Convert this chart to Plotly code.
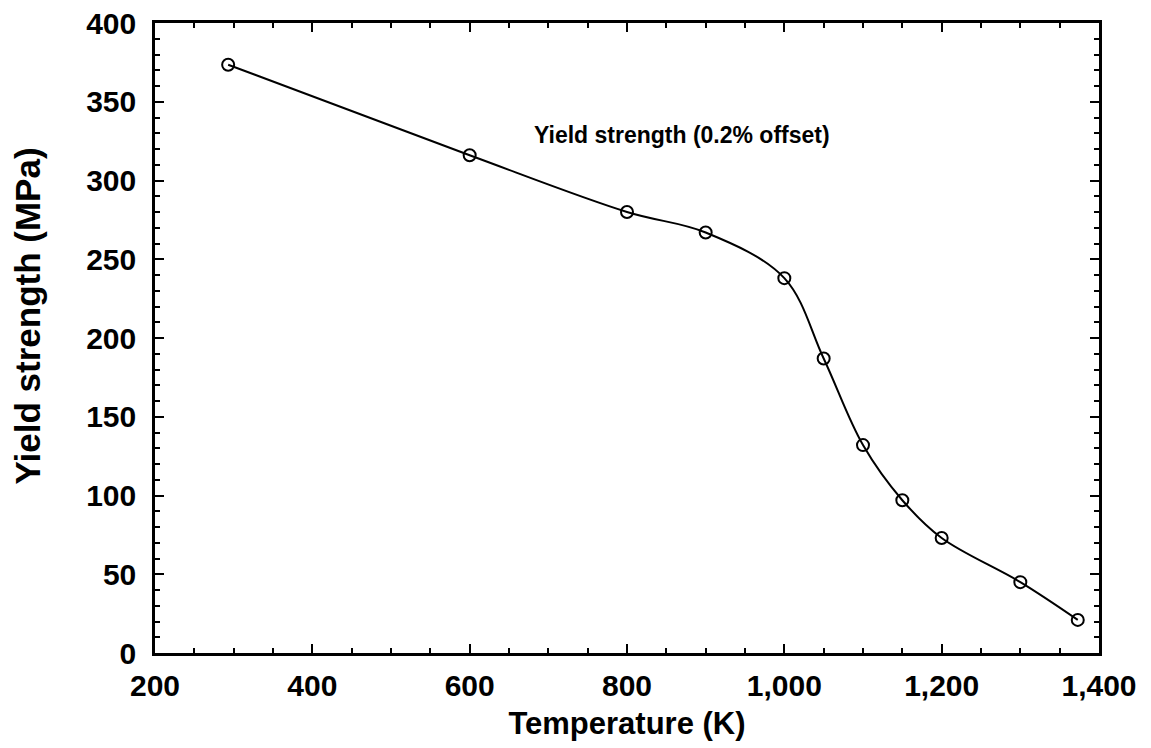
import plotly.graph_objects as go

# Datos
temperatura = [293, 600, 800, 900, 1000, 1050, 1100, 1150, 1200, 1300, 1373]
fluencia = [373.5, 316, 280, 267, 238, 187, 132, 97, 73, 45, 21]

fuente = "Liberation Sans, Arial, Helvetica, sans-serif"

fig = go.Figure()
fig.add_trace(go.Scatter(
    x=temperatura, y=fluencia, mode="lines+markers",
    line=dict(color="black", width=2, shape="spline"),
    marker=dict(symbol="circle-open", size=12, color="black", line=dict(width=2)),
    showlegend=False,
))

fig.add_annotation(x=870, y=329, text="Yield strength (0.2% offset)", showarrow=False,
                   font=dict(family=fuente, size=23, color="black", weight="bold"))

# titulo del eje y como anotacion (en el original no esta centrado)
fig.add_annotation(xref="paper", yref="paper", x=-0.135, y=0.535, textangle=-90,
                   text="Yield strength (MPa)", showarrow=False,
                   xanchor="center", yanchor="middle",
                   font=dict(family=fuente, size=35, color="black", weight="bold"))

eje = dict(showgrid=False, zeroline=False, showline=True, linecolor="black", linewidth=2.5,
           mirror="allticks", ticks="inside", ticklen=9, tickwidth=2, tickcolor="black",
           ticklabeloverflow="allow", automargin=False,
           tickfont=dict(family=fuente, size=30, color="black", weight="bold"))

fig.update_xaxes(eje, range=[200, 1400], dtick=200, tickformat=",d", ticklabelstandoff=4,
                 minor=dict(dtick=50, ticks="inside", ticklen=5, tickwidth=2, tickcolor="black"),
                 title=dict(text="Temperature (K)",
                            font=dict(family=fuente, size=31, color="black", weight="bold"),
                            standoff=12))
fig.update_yaxes(eje, range=[0, 400], dtick=50, ticklabelstandoff=10,
                 minor=dict(dtick=10, ticks="inside", ticklen=5, tickwidth=2, tickcolor="black"))

# la pagina agrega 8 px de margen, se descuenta del tamano
fig.update_layout(width=1143, height=740, plot_bgcolor="white", paper_bgcolor="white",
                  margin=dict(l=147, r=52, t=15, b=95))

fig.write_html("out.html")
